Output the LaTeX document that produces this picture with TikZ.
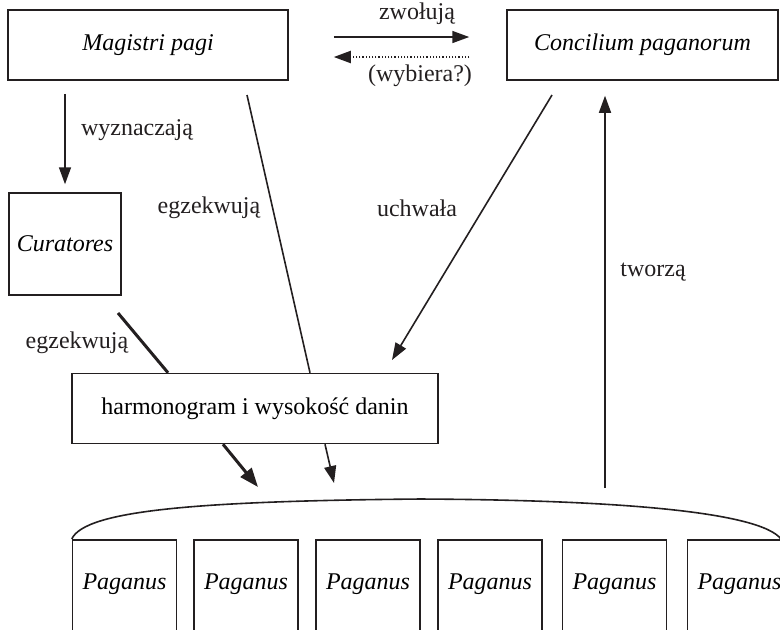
\documentclass[tikz,border=0pt]{standalone}
\usepackage{fontspec}
\setmainfont{Liberation Serif}
\usepackage{xcolor}
\usepackage{tikz}
\usetikzlibrary{arrows.meta}
\definecolor{ink}{HTML}{231F20}
\newcommand{\diagfont}{\fontsize{12}{14}\selectfont}
\tikzset{
  box/.style={draw=ink, line width=0.75pt, inner sep=0pt, font=\diagfont\itshape},
  plainbox/.style={draw=ink, line width=0.75pt, inner sep=0pt, font=\diagfont},
  pag/.style={box, anchor=north, minimum width=52pt, minimum height=55pt, text depth=13.5pt},
  link/.style={draw=ink, line width=0.8pt},
  heavy/.style={draw=ink, line width=1.5pt},
  tip/.style={-{Triangle[length=8.5pt,width=6pt]}},
  bigtip/.style={-{Triangle[length=9.5pt,width=7pt]}},
  dotline/.style={draw=ink, line width=1pt, dash pattern=on 0.6pt off 1pt},
  lab/.style={text=ink, inner sep=0pt, font=\diagfont},
}

\begin{document}
\begin{tikzpicture}[x=0.5pt, y=-0.5pt]
  \useasboundingbox (0,0) rectangle (780,629);
  % boxes
  \node[box, minimum width=140pt, minimum height=35pt] (mag) at (148,45) {Magistri pagi};
  \node[box, minimum width=135.5pt, minimum height=35pt] (conc) at (642.5,45) {Concilium paganorum};
  \node[box, minimum width=56pt, minimum height=51pt] (cur) at (65,244) {Curatores};
  \node[plainbox, minimum width=183pt, minimum height=35pt] (harm) at (255,408.5) {harmonogram i wysokość danin};
  \foreach \i/\x in {1/124.5, 2/246, 3/368, 4/490, 5/614.5, 6/739.5}
    \node[pag] (p\i) at (\x,539) {Paganus};
  % free ends
  \coordinate (egA) at (247,95);
  \coordinate (egB) at (118,313);
  \coordinate (uchA) at (552,95);
  \coordinate (uchB) at (392,360);
  \coordinate (tw) at (605,488);
  \coordinate (downA) at (258,487);
  \coordinate (downB) at (334,483);
  \coordinate (brR) at (781,539);
  % connectors
  \draw[link,tip,shorten <=22.5pt,shorten >=18.5pt] ([yshift=4pt]mag.east) -- ([yshift=4pt]conc.west);
  \draw[dotline,tip,shorten <=18.5pt,shorten >=22.5pt] ([yshift=-6pt]conc.west) -- ([yshift=-6pt]mag.east);
  \draw[link,tip,shorten <=6.5pt,shorten >=4pt] (mag.south -| cur.north) -- (cur.north);
  \draw[link] (egA) -- ([xshift=27.5pt]harm.north);
  \draw[heavy] (egB) -- ([xshift=-43.5pt]harm.north);
  \draw[link,tip] (uchA) -- (uchB);
  \draw[link,tip,shorten >=7.5pt] (tw) -- (tw |- conc.south);
  \draw[heavy,bigtip] ([xshift=-16pt]harm.south) -- (downA);
  \draw[link,tip] ([xshift=35pt]harm.south) -- (downB);
  \draw[link] (p1.north west) .. controls (85,510) and (200,501) .. (420,499)
    .. controls (620,500) and (760,512) .. (brR);
  % labels
  \node[lab] (lzw) at (417,14) {zwołują};
  \node[lab] (lwb) at (420,76) {(wybiera?)};
  \node[lab] (lwy) at (137,130) {wyznaczają};
  \node[lab] (leg1) at (209,208) {egzekwują};
  \node[lab] (luch) at (417,208) {uchwała};
  \node[lab] (ltw) at (653,272) {tworzą};
  \node[lab] (leg2) at (77,343) {egzekwują};
\end{tikzpicture}
\end{document}
